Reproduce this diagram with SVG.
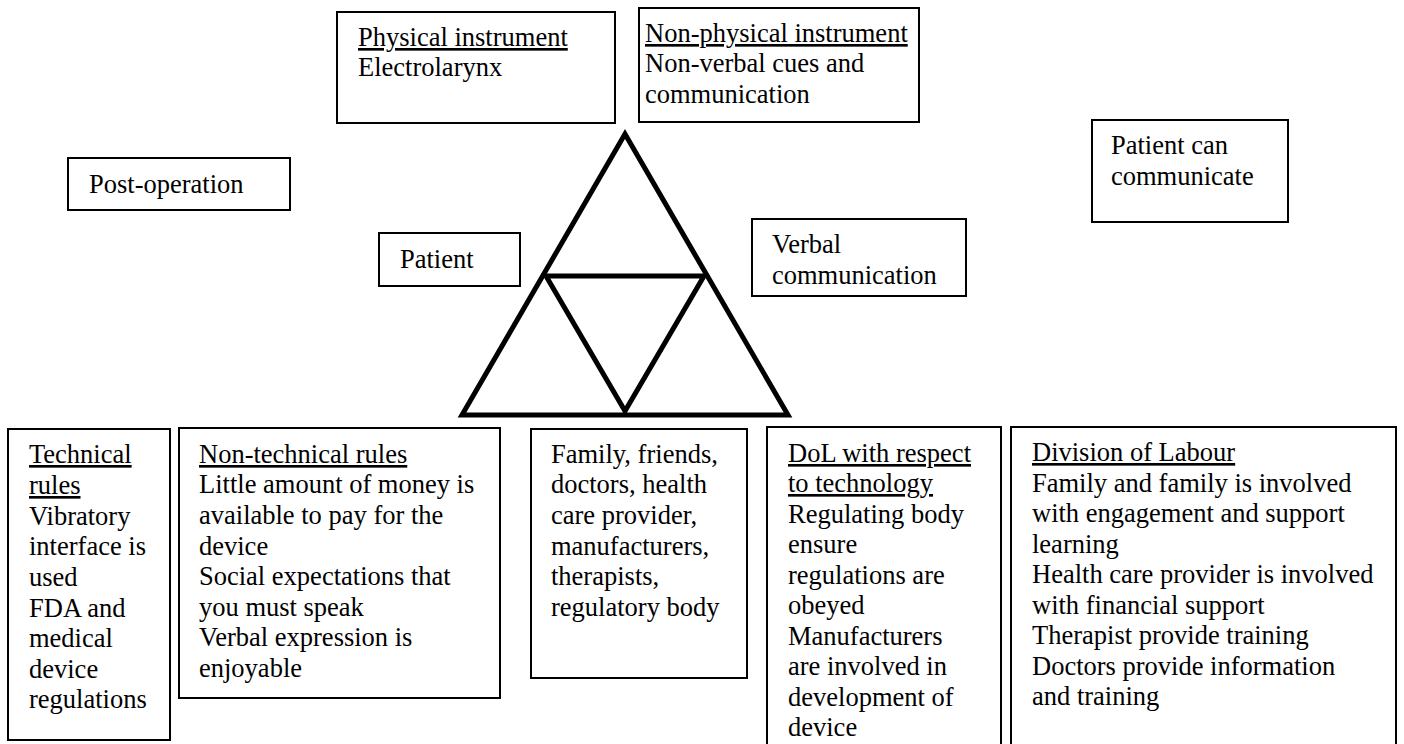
<svg xmlns="http://www.w3.org/2000/svg" width="1404" height="744" viewBox="0 0 1404 744">
  <style>
    .box { fill: #ffffff; stroke: #000000; stroke-width: 2; }
    .tri { fill: none; stroke: #000000; stroke-width: 5; stroke-linejoin: miter; }
    .t { font-family: "Liberation Serif", "DejaVu Serif", serif; font-size: 26.5px; fill: #000000; }
    .u { text-decoration: underline; }
  </style>
  <rect x="0" y="0" width="1404" height="744" fill="#ffffff"/>

  <!-- activity-system triangle -->
  <g id="connectors">
    <polygon class="tri" points="625,134 462,415 788,415"/>
    <polygon class="tri" points="546,276 704,276 625,411"/>
  </g>

  <g id="physical-instrument">
    <rect class="box" x="337" y="12" width="278" height="111"/>
    <text class="t" x="358" y="46"><tspan class="u">Physical instrument</tspan><tspan x="358" y="76">Electrolarynx</tspan></text>
  </g>

  <g id="non-physical-instrument">
    <rect class="box" x="639" y="8" width="280" height="114"/>
    <text class="t" x="645" y="42"><tspan class="u">Non-physical instrument</tspan><tspan x="645" y="72">Non-verbal cues and</tspan><tspan x="645" y="103">communication</tspan></text>
  </g>

  <g id="post-operation">
    <rect class="box" x="68" y="158" width="222" height="52"/>
    <text class="t" x="89" y="193">Post-operation</text>
  </g>

  <g id="patient">
    <rect class="box" x="379" y="233" width="141" height="53"/>
    <text class="t" x="400" y="268">Patient</text>
  </g>

  <g id="verbal-communication">
    <rect class="box" x="752" y="219" width="214" height="77"/>
    <text class="t" x="772" y="253">Verbal<tspan x="772" y="284">communication</tspan></text>
  </g>

  <g id="outcome">
    <rect class="box" x="1092" y="120" width="196" height="102"/>
    <text class="t" x="1111" y="154">Patient can<tspan x="1111" y="185">communicate</tspan></text>
  </g>

  <g id="technical-rules">
    <rect class="box" x="8" y="429" width="162" height="311"/>
    <text class="t" x="29" y="463"><tspan class="u">Technical</tspan><tspan class="u" x="29" y="494">rules</tspan><tspan x="29" y="525">Vibratory</tspan><tspan x="29" y="555">interface is</tspan><tspan x="29" y="586">used</tspan><tspan x="29" y="617">FDA and</tspan><tspan x="29" y="647">medical</tspan><tspan x="29" y="678">device</tspan><tspan x="29" y="708">regulations</tspan></text>
  </g>

  <g id="non-technical-rules">
    <rect class="box" x="179" y="428" width="321" height="270"/>
    <text class="t" x="199" y="463"><tspan class="u">Non-technical rules</tspan><tspan x="199" y="493">Little amount of money is</tspan><tspan x="199" y="524">available to pay for the</tspan><tspan x="199" y="555">device</tspan><tspan x="199" y="585">Social expectations that</tspan><tspan x="199" y="616">you must speak</tspan><tspan x="199" y="646">Verbal expression is</tspan><tspan x="199" y="677">enjoyable</tspan></text>
  </g>

  <g id="community">
    <rect class="box" x="531" y="429" width="216" height="249"/>
    <text class="t" x="551" y="463">Family, friends,<tspan x="551" y="493">doctors, health</tspan><tspan x="551" y="524">care provider,</tspan><tspan x="551" y="555">manufacturers,</tspan><tspan x="551" y="585">therapists,</tspan><tspan x="551" y="616">regulatory body</tspan></text>
  </g>

  <g id="dol-technology">
    <rect class="box" x="767" y="427" width="234" height="340"/>
    <text class="t" x="788" y="462"><tspan class="u">DoL with respect</tspan><tspan class="u" x="788" y="492">to technology</tspan><tspan x="788" y="523">Regulating body</tspan><tspan x="788" y="553">ensure</tspan><tspan x="788" y="584">regulations are</tspan><tspan x="788" y="614">obeyed</tspan><tspan x="788" y="645">Manufacturers</tspan><tspan x="788" y="675">are involved in</tspan><tspan x="788" y="706">development of</tspan><tspan x="788" y="736">device</tspan></text>
  </g>

  <g id="division-of-labour">
    <rect class="box" x="1011" y="427" width="385" height="340"/>
    <text class="t" x="1032" y="461"><tspan class="u">Division of Labour</tspan><tspan x="1032" y="492">Family and family is involved</tspan><tspan x="1032" y="522">with engagement and support</tspan><tspan x="1032" y="553">learning</tspan><tspan x="1032" y="583">Health care provider is involved</tspan><tspan x="1032" y="614">with financial support</tspan><tspan x="1032" y="644">Therapist provide training</tspan><tspan x="1032" y="675">Doctors provide information</tspan><tspan x="1032" y="705">and training</tspan></text>
  </g>
</svg>
